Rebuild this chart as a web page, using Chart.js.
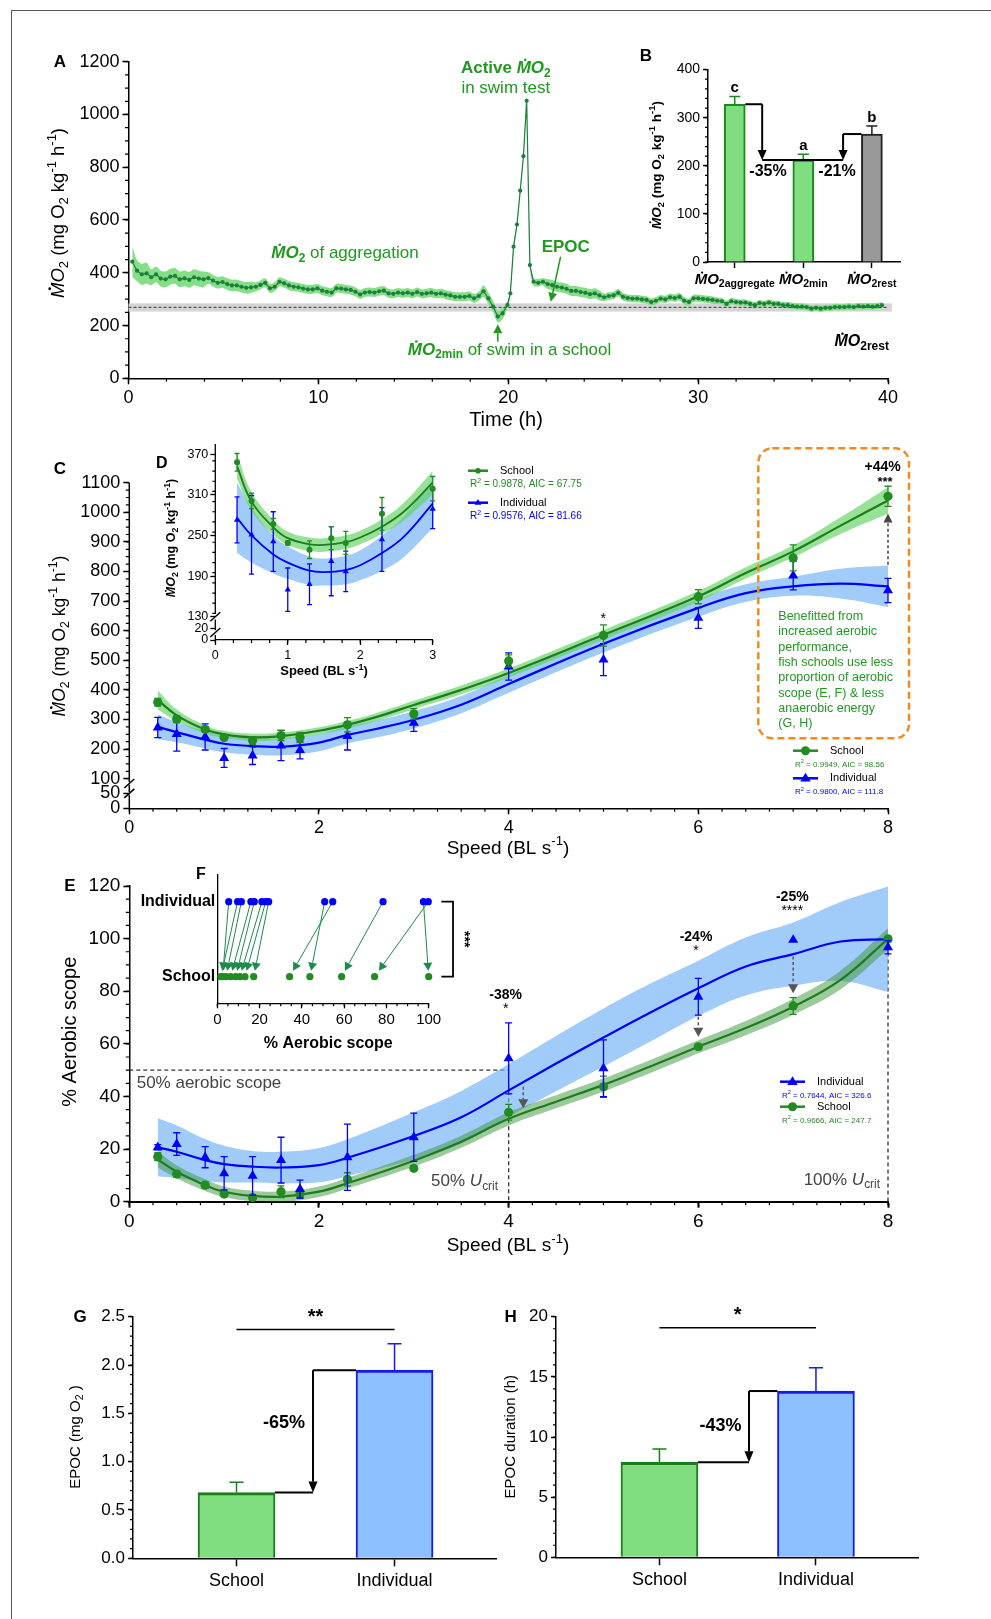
<!DOCTYPE html>
<html>
<head>
<meta charset="utf-8">
<title>Schooling fish metabolism</title>
<script src="https://cdn.jsdelivr.net/npm/chart.js@4.4.1/dist/chart.umd.min.js"></script>
<style>
  body { margin: 0; background: #fff; }
  #page { position: relative; width: 991px; height: 1619px; overflow: hidden; background: #fff; }
  #page canvas { position: absolute; left: 0; top: 0; }
  #frame { position: absolute; left: 11px; top: 10px; width: 1000px; height: 1700px; border-left: 1.5px solid #555; border-top: 1.5px solid #555; }
</style>
</head>
<body>
<div id="page"><div id="frame"></div></div>
<script>
// ---------- data ----------
// A: MO2 time course of the school
const aMO2Pre = [442,408,394,398,383,394,378,375,385,388,375,379,373,383,378,375,380,370,362,365,357,352,352,347,343,345,347,354,362,341,347,366,360,352,347,345,340,337,337,341,332,328,325,341,340,337,335,328,318,325,327,325,330,332,322,320,325,322,325,320,327,320,322,325,320,322,317,314,309,309,309,312,303,312,330,303,272,234,246];
const aSpikeTime = [19.96, 20.11, 20.28, 20.46, 20.63, 20.80, 20.97, 21.14];
const aMO2Spike = [278, 322, 499, 583, 711, 842, 1052, 429];
const aMO2Post = [366,362,366,357,353,347,344,339,331,331,327,324,319,322,314,307,312,314,324,309,304,302,302,299,297,289,294,302,299,307,304,309,294,289,303,303,301,299,297,294,292,282,292,289,287,287,282,277,285,282,287,282,282,277,277,274,272,272,270,264,267,264,267,267,270,270,270,272,270,274,272,274,272,274,277];
const aSemTab = [[0,58],[0.4,40],[1.2,30],[4,22],[6.5,17],[18.6,22],[19.9,10],[21.2,14],[22,19],[25,14],[31,12]];
const aRest = 269, aRestLo = 253, aRestHi = 284;

// B: summary bars
const bCats = ['aggregate', 'min', 'rest'];
const bVals = [328, 212, 266];
const bErr = [16, 12, 17];
const bLetters = ['c', 'a', 'b'];

// C / D: MO2 vs speed
const cSpeed = [0.3, 0.5, 0.8, 1.0, 1.3, 1.6, 1.8, 2.3, 3, 4, 5, 6, 7, 8];
const cSchool = [358, 301, 267, 239, 229, 246, 239, 282, 319, 498, 584, 715, 846, 1054];
const cSchoolErr = [13, 11.5, 8, 3, 13, 17, 17, 24, 18, 20, 36, 24, 44, 34];
const cInd = [273, 251, 241, 170, 178, 212, 197, 244, 289, 479, 502, 643, 786, 736];
const cIndErr = [34, 58, 44, 32, 30, 51, 30, 47, 29, 46, 54, 35, 48, 41];
const cFitX = [0.3, 0.5, 0.8, 1, 1.3, 1.6, 2, 2.3, 2.6, 3, 3.5, 4, 5, 6, 6.5, 7, 7.5, 8];
const cSchoolFit = [366, 314, 266, 250, 240, 244, 262, 282, 308, 349, 400, 457, 586, 716, 795, 868, 955, 1040];
const cSchoolCI = [32, 20, 14, 12, 12, 12, 12, 13, 13, 14, 15, 15, 16, 18, 19, 20, 28, 45];
const cIndFit = [275, 257, 232, 218, 210, 208, 222, 248, 268, 299, 350, 420, 556, 677, 727, 750, 759, 750];
const cIndCI = [42, 34, 30, 29, 29, 29, 29, 29, 29, 29, 29, 30, 30, 30, 30, 32, 50, 70];
const dFitX = [0.3, 0.5, 0.8, 1, 1.3, 1.5, 1.8, 2, 2.3, 2.6, 3];
const dSchoolFit = [352, 300, 262, 246, 237, 236, 240, 247, 263, 285, 328];
const dSchoolCI = [18, 14, 11, 10, 10, 10, 10, 10, 11, 13, 17];
const dIndFit = [276, 250, 222, 210, 198, 196, 199, 206, 224, 248, 297];
const dIndCI = [52, 40, 28, 24, 21, 20, 21, 22, 26, 30, 36];

// E: % aerobic scope vs speed
const eSchool = [17.1, 10.5, 6.3, 2.9, 1.6, 3.8, 2.9, 8.5, 12.7, 34.0, 43.7, 58.9, 74.4, 99.9];
const eSchoolErr = [1.5, 1.2, 1.2, 0.8, 0.8, 2.2, 1.5, 2.5, 0.8, 3, 4, 1, 3.2, 1];
const eInd = [20.7, 21.9, 16.9, 10.8, 9.8, 15.8, 4.8, 16.9, 24.5, 54.5, 50.7, 77.9, 99.5, 96.7];
const eIndErr = [1, 4.3, 4, 6.3, 7.3, 8.7, 3.4, 12.6, 9.2, 13.5, 10.8, 7, 0, 2.5];
const eFitX = [0.3, 0.5, 0.8, 1, 1.3, 1.6, 2, 2.3, 3, 3.5, 4, 4.5, 5, 5.5, 6, 6.5, 7, 7.5, 8];
const eIndFit = [20.7, 19, 15.8, 14.3, 13.3, 13, 13.9, 16.7, 25, 32.1, 42.3, 52.5, 62.4, 72, 81.1, 89.4, 94.1, 98.9, 99.8];
const eIndCI = [11, 10, 8, 7, 6, 6, 6.5, 7, 9, 10, 10, 10.5, 11, 11, 10.5, 11, 12, 15, 20];
const eSchoolFit = [16, 11.4, 6.3, 3.8, 2.2, 1.9, 3.8, 7, 15.6, 22.8, 31.5, 38, 44.4, 51.5, 58.9, 66, 74.1, 84.3, 99.9];
const eSchoolCI = [3, 2.5, 2.2, 2, 2, 2, 2, 2, 2.2, 2.3, 2.5, 2.5, 2.5, 2.5, 2.5, 2.7, 3, 3.5, 4];

// F: paired % aerobic scope (individual -> school)
const fInd = [5.4, 9.6, 11.4, 15.9, 17.5, 21.1, 22.9, 24.3, 50.8, 54.6, 78.4, 97.5, 99.8];
const fSchool = [2.5, 1.7, 4.1, 6.3, 8.7, 10.7, 13.1, 17.2, 43.8, 34.2, 58.8, 100, 74.4];

// G / H: EPOC
const ghCats = ['School', 'Individual'];
const gVals = [0.68, 1.947], gErr = [0.106, 0.273];
const hVals = [7.9, 13.82], hErr = [1.1, 1.94];

// ---------- helpers ----------
const FF = "'Liberation Sans', Arial, Helvetica, sans-serif";
const W = 991, H = 1619;
const GREEN = '#228b22', GREEN_LN = '#1e7b1e', BLUE = '#0000ff';
const GREEN_BAND = 'rgba(95,210,95,0.65)', BLUE_BAND = 'rgba(110,175,245,0.65)';
const TXT_GREEN = '#1f9a1f';

Chart.defaults.font.family = FF;
Chart.defaults.color = '#000';

function mk() {
  const c = document.createElement('canvas');
  c.width = W; c.height = H;
  document.getElementById('page').appendChild(c);
  return c;
}
function frame(l, t, r, b, yw, xh) {
  return { padding: { left: l - yw, top: t, right: W - r, bottom: H - b - xh } };
}
function axis(o) {
  const tl = o.tl ?? 6;
  return {
    type: 'linear', position: o.pos, min: o.min, max: o.max, offset: false,
    border: { display: o.border !== false, color: '#000', width: o.bw || 1.5 },
    grid: { display: true, offset: false, drawOnChartArea: false, drawTicks: tl > 0, tickLength: tl, tickColor: '#000', tickWidth: o.bw || 1.5 },
    ticks: {
      color: '#000', font: { family: FF, size: o.size, weight: o.weight || 'normal' }, padding: o.pad ?? 3,
      autoSkip: false, maxRotation: 0, minRotation: 0,
      callback: (v, i) => o.labels ? o.labels[i] : (o.fmt ? o.fmt(v) : String(v))
    },
    afterBuildTicks: sc => { sc.ticks = o.vals.map(v => ({ value: v })); },
    afterFit: sc => { if (o.pos === 'left') sc.width = o.fit; else sc.height = o.fit; }
  };
}
function opts(layout, scales, plug) {
  return {
    responsive: false, animation: false, devicePixelRatio: 1, events: [], layout, scales,
    plugins: Object.assign({ legend: { display: false }, tooltip: { enabled: false } }, plug || {})
  };
}
const xy = (xs, ys) => xs.map((x, i) => ({ x, y: ys[i] }));
function ptsDS(xs, ys, errs, color, style, r, cap) {
  return { data: xy(xs, ys), errs, errCap: cap, errColor: color, showLine: false, borderColor: color,
    backgroundColor: color, pointStyle: style, pointRadius: r, pointBorderWidth: 0, clip: false };
}
function fitDS(xs, ys, color, w) {
  return { data: xy(xs, ys), borderColor: color, borderWidth: w, pointRadius: 0, tension: 0.4, fill: false, clip: false };
}
function bandDS(xs, ys, ci, color) {
  return [
    { data: xs.map((x, i) => ({ x, y: ys[i] + ci[i] })), borderColor: 'transparent', borderWidth: 0, pointRadius: 0, tension: 0.4, fill: '+1', backgroundColor: color, clip: false },
    { data: xs.map((x, i) => ({ x, y: ys[i] - ci[i] })), borderColor: 'transparent', borderWidth: 0, pointRadius: 0, tension: 0.4, fill: false, clip: false }
  ];
}
const P = (ch, x, y) => [ch.scales.x.getPixelForValue(x), ch.scales.y.getPixelForValue(y)];

function poly(ctx, pts, o = {}) {
  ctx.save();
  ctx.strokeStyle = o.color || '#000'; ctx.lineWidth = o.lw || 1.5;
  ctx.setLineDash(o.dash || []);
  ctx.beginPath();
  pts.forEach((p, i) => i ? ctx.lineTo(p[0], p[1]) : ctx.moveTo(p[0], p[1]));
  ctx.stroke(); ctx.restore();
}
function arrow(ctx, x1, y1, x2, y2, o = {}) {
  const hl = o.hl || 9, hw = o.hw || 4.5, a = Math.atan2(y2 - y1, x2 - x1);
  const bx = x2 - hl * Math.cos(a), by = y2 - hl * Math.sin(a);
  poly(ctx, [[x1, y1], [bx, by]], o);
  ctx.save(); ctx.fillStyle = o.color || '#000';
  ctx.beginPath(); ctx.moveTo(x2, y2);
  ctx.lineTo(bx + hw * Math.sin(a), by - hw * Math.cos(a));
  ctx.lineTo(bx - hw * Math.sin(a), by + hw * Math.cos(a));
  ctx.closePath(); ctx.fill(); ctx.restore();
}
function slash(ctx, x, y) { poly(ctx, [[x - 5, y + 4.5], [x + 5, y - 4.5]], { lw: 1.5 }); }

// rich text: R(text, flags) flags: b bold, i italic, _ sub, ^ sup, d dot above
function R(t, f = '') { return { t, b: f.includes('b'), i: f.includes('i'), sub: f.includes('_'), sup: f.includes('^'), dot: f.includes('d') }; }
function MO2(f = '', sub = '') { return [R('M', 'id' + f), R('O', 'i' + f), R('2' + sub, '_' + f)]; }
function txt(ctx, segs, x, y, o = {}) {
  if (typeof segs === 'string') segs = [R(segs, o.f || '')];
  const size = o.size || 14, k = o.subK || 0.7;
  const parts = segs.map(s => {
    const sz = (s.sub || s.sup) ? size * k : size;
    const f = `${s.i ? 'italic ' : ''}${(s.b || o.bold) ? 'bold ' : ''}${sz}px ${FF}`;
    ctx.font = f;
    return { s, f, sz, w: ctx.measureText(s.t).width, dy: s.sub ? size * 0.3 : s.sup ? -size * 0.36 : 0 };
  });
  const tw = parts.reduce((a, p) => a + p.w, 0);
  ctx.save();
  ctx.translate(x, y);
  if (o.rot) ctx.rotate(o.rot);
  let cx = o.align === 'center' ? -tw / 2 : o.align === 'right' ? -tw : 0;
  ctx.textAlign = 'left'; ctx.textBaseline = 'middle';
  ctx.fillStyle = o.color || '#000';
  for (const p of parts) {
    ctx.font = p.f;
    ctx.fillText(p.s.t, cx, p.dy);
    if (p.s.dot) { ctx.beginPath(); ctx.arc(cx + p.w * (p.s.i ? 0.6 : 0.5), p.dy - p.sz * 0.5, p.sz * 0.075, 0, 7); ctx.fill(); }
    cx += p.w;
  }
  ctx.restore();
}
const YUNIT = (b) => [...MO2(b), R(' (mg O', b), R('2', '_' + b), R(' kg', b), R('-1', '^' + b), R(' h', b), R('-1', '^' + b), R(')', b)];
const SPEED = (b) => [R('Speed (BL s', b), R('-1', '^' + b), R(')', b)];

function tri(ctx, x, y, r, color) {
  ctx.save(); ctx.fillStyle = color; ctx.beginPath();
  ctx.moveTo(x, y - r); ctx.lineTo(x + r * 0.95, y + r * 0.6); ctx.lineTo(x - r * 0.95, y + r * 0.6); ctx.closePath(); ctx.fill(); ctx.restore();
}
function dot(ctx, x, y, r, color) { ctx.save(); ctx.fillStyle = color; ctx.beginPath(); ctx.arc(x, y, r, 0, 7); ctx.fill(); ctx.restore(); }
function legendItem(ctx, x1, x2, y, color, marker, r, label, size, r2, r2size) {
  poly(ctx, [[x1, y], [x2, y]], { color, lw: 2.5 });
  if (marker === 'tri') tri(ctx, (x1 + x2) / 2, y, r, color); else dot(ctx, (x1 + x2) / 2, y, r, color);
  txt(ctx, label, x2 + 12, y, { size });
  txt(ctx, [R('R'), R('2', '^'), R(r2)], x1 + 2, y + 13.6, { size: r2size, color });
}

// ---------- plugins ----------
const minorTicks = {
  id: 'minorTicks',
  afterDraw(chart, args, o) {
    const ctx = chart.ctx;
    ['x', 'y'].forEach(id => {
      const step = o[id]; if (!step) return;
      const sc = chart.scales[id];
      const from = o[id + 'From'] ?? sc.min, to = o[id + 'To'] ?? sc.max, len = o.len || 3.5;
      ctx.save(); ctx.strokeStyle = '#000'; ctx.lineWidth = 1.2; ctx.beginPath();
      for (let k = Math.ceil(from / step - 1e-6); k * step <= to + 1e-6; k++) {
        const p = sc.getPixelForValue(k * step);
        if (id === 'x') { ctx.moveTo(p, sc.top); ctx.lineTo(p, sc.top + len); }
        else { ctx.moveTo(sc.right, p); ctx.lineTo(sc.right - len, p); }
      }
      ctx.stroke(); ctx.restore();
    });
  }
};
const errorBars = {
  id: 'errorBars',
  beforeDatasetDraw(chart, args) {
    const ds = chart.data.datasets[args.index];
    if (!ds.errs) return;
    const ys = chart.scales[args.meta.yAxisID], ctx = chart.ctx;
    ctx.save();
    args.meta.data.forEach((el, j) => {
      const e = ds.errs[j]; if (!e) return;
      const raw = ds.data[j], v = typeof raw === 'object' ? raw.y : raw;
      const x = el.x, yTop = ys.getPixelForValue(v + e), yBot = ys.getPixelForValue(ds.errUp ? v : v - e);
      const cap = ds.errCap || 4;
      ctx.strokeStyle = Array.isArray(ds.errColor) ? ds.errColor[j] : (ds.errColor || '#000');
      ctx.lineWidth = ds.errWidth || 1.3;
      ctx.beginPath();
      ctx.moveTo(x, yBot); ctx.lineTo(x, yTop);
      ctx.moveTo(x - cap, yTop); ctx.lineTo(x + cap, yTop);
      if (!ds.errUp) { ctx.moveTo(x - cap, yBot); ctx.lineTo(x + cap, yBot); }
      ctx.stroke();
    });
    ctx.restore();
  }
};
Chart.register(minorTicks, errorBars);

// ---------- A ----------
const aTime = [];
aMO2Pre.forEach((v, k) => aTime.push(0.2 + 0.25 * k));
aTime.push(...aSpikeTime);
aMO2Post.forEach((v, k) => aTime.push(21.33 + 0.248 * k));
const aMO2 = [...aMO2Pre, ...aMO2Spike, ...aMO2Post];
const semAt = t => { let h = aSemTab[0][1]; aSemTab.forEach(([k, v]) => { if (t >= k) h = v; }); return h; };
const aPts = xy(aTime, aMO2);

new Chart(mk(), {
  type: 'line',
  data: { datasets: [
    { data: aPts, borderColor: '#1d7f3d', borderWidth: 1.2, pointRadius: 2.1, pointBackgroundColor: '#1d7f3d', pointBorderWidth: 0, tension: 0, clip: false },
    { data: [{ x: 0, y: aRest }, { x: 40, y: aRest }], borderColor: '#333', borderWidth: 1, borderDash: [3, 2], pointRadius: 0, clip: false },
    { data: aPts.map(p => ({ x: p.x, y: p.y + semAt(p.x) })), borderColor: 'transparent', borderWidth: 0, pointRadius: 0, tension: 0.35, fill: '+1', backgroundColor: '#86df86', clip: false },
    { data: aPts.map(p => ({ x: p.x, y: p.y - semAt(p.x) })), borderColor: 'transparent', borderWidth: 0, pointRadius: 0, tension: 0.35, fill: false, clip: false }
  ] },
  options: opts(frame(128.5, 61.7, 888, 378.3, 50, 40), {
    x: axis({ pos: 'bottom', min: 0, max: 40, vals: [0, 10, 20, 30, 40], size: 18, fit: 40 }),
    y: axis({ pos: 'left', min: 0, max: 1200, vals: [0, 200, 400, 600, 800, 1000, 1200], size: 18, fit: 50 })
  }, { minorTicks: { x: 2, y: 50 } }),
  plugins: [{
    id: 'annA',
    beforeDatasetsDraw(ch) {
      const [x0, y0] = P(ch, 0, aRestHi), [x1, y1] = P(ch, 40.2, aRestLo);
      ch.ctx.fillStyle = '#d4d4d4'; ch.ctx.fillRect(x0, y0, x1 - x0, y1 - y0);
    },
    afterDraw(ch) {
      const c = ch.ctx, g = TXT_GREEN;
      txt(c, [R('Active ', 'b'), ...MO2('b')], ...P(ch, 19.87, 1175), { size: 17, color: g, align: 'center' });
      txt(c, 'in swim test', ...P(ch, 19.87, 1099), { size: 17, color: g, align: 'center' });
      txt(c, [...MO2('b'), R(' of aggregation')], ...P(ch, 7.52, 474), { size: 17, color: g });
      txt(c, [R('EPOC', 'b')], ...P(ch, 23.03, 497), { size: 17, color: g, align: 'center' });
      arrow(c, ...P(ch, 22.76, 461), ...P(ch, 22.24, 290), { color: g, lw: 1.5, hl: 9, hw: 4.5 });
      txt(c, [...MO2('b', 'min'), R(' of swim in a school')], ...P(ch, 14.71, 107), { size: 17, color: g });
      arrow(c, ...P(ch, 19.45, 139), ...P(ch, 19.45, 205), { color: g, lw: 1.5, hl: 9, hw: 4.5 });
      txt(c, MO2('b', 'rest'), ...P(ch, 40.05, 139), { size: 16, align: 'right', subK: 0.75 });
      txt(c, YUNIT(''), 59, 213, { size: 18.5, align: 'center', rot: -Math.PI / 2 });
      txt(c, 'Time (h)', 506, 420, { size: 20, align: 'center' });
      txt(c, [R('A', 'b')], 60, 62, { size: 17, align: 'center' });
    }
  }]
});

// ---------- B ----------
new Chart(mk(), {
  type: 'bar',
  data: { datasets: [{
    data: xy([0, 1, 2], bVals), errs: bErr, errUp: true, errCap: 5.5, errWidth: 1.5,
    errColor: ['#1a8a1a', '#1a8a1a', '#222'],
    backgroundColor: ['#80dd80', '#80dd80', '#999999'], borderColor: ['#1a8a1a', '#1a8a1a', '#222'],
    borderWidth: 2, barThickness: 21, clip: false
  }] },
  options: opts(frame(708, 69.6, 900, 262, 40, 30), {
    x: axis({ pos: 'bottom', min: -0.39, max: 2.41, vals: [0, 1, 2], labels: ['', '', ''], size: 14, fit: 30, tl: 6 }),
    y: axis({ pos: 'left', min: 0, max: 400, vals: [0, 100, 200, 300, 400], size: 14, fit: 40, tl: 5 })
  }, { minorTicks: { y: 20, len: 3 } }),
  plugins: [{
    id: 'annB',
    afterDraw(ch) {
      const c = ch.ctx, half = 10.5;
      bLetters.forEach((l, i) => txt(c, [R(l, 'b')], ...P(ch, i, bVals[i] + bErr[i] + 17), { size: 15, align: 'center' }));
      const [xa, ya] = P(ch, 0, bVals[0]), [xm, ym] = P(ch, 1, bVals[1]), [xr, yr] = P(ch, 2, bVals[2]);
      const xl = ch.scales.x.getPixelForValue(0.4), xq = ch.scales.x.getPixelForValue(1.58);
      poly(c, [[xa + half, ya], [xl, ya]], { lw: 2 });
      arrow(c, xl, ya, xl, ym, { lw: 2, hl: 10, hw: 4.5 });
      poly(c, [[xl, ym], [xq, ym]], { lw: 2 });
      poly(c, [[xr - half, yr], [xq, yr]], { lw: 2 });
      arrow(c, xq, yr, xq, ym, { lw: 2, hl: 10, hw: 4.5 });
      txt(c, [R('-35%', 'b')], 768, 172, { size: 16, align: 'center' });
      txt(c, [R('-21%', 'b')], 837, 172, { size: 16, align: 'center' });
      bCats.forEach((cat, i) => txt(c, MO2('b', cat), ch.scales.x.getPixelForValue(i), 280, { size: 15, align: 'center' }));
      txt(c, YUNIT('b'), 657, 165, { size: 13.5, align: 'center', rot: -Math.PI / 2 });
      txt(c, [R('B', 'b')], 646, 56, { size: 17, align: 'center' });
    }
  }]
});

// ---------- C ----------
new Chart(mk(), {
  type: 'line',
  data: { datasets: [
    ptsDS(cSpeed, cSchool, cSchoolErr, GREEN, 'circle', 4.6, 3.5),
    ptsDS(cSpeed, cInd, cIndErr, BLUE, 'triangle', 5.8, 3.5),
    fitDS(cFitX, cSchoolFit, GREEN_LN, 2.2),
    fitDS(cFitX, cIndFit, BLUE, 2.2),
    ...bandDS(cFitX, cSchoolFit, cSchoolCI, GREEN_BAND),
    ...bandDS(cFitX, cIndFit, cIndCI, BLUE_BAND)
  ] },
  options: opts(frame(129.3, 482.7, 888, 808.3, 55, 40), {
    x: axis({ pos: 'bottom', min: 0, max: 8, vals: [0, 2, 4, 6, 8], size: 18, fit: 40 }),
    y: axis({ pos: 'left', min: 0, max: 1100, vals: [0, 50, 100, 200, 300, 400, 500, 600, 700, 800, 900, 1000, 1100], size: 18, fit: 55, border: false })
  }, { minorTicks: { x: 0.25, y: 25, yFrom: 100 } }),
  plugins: [{
    id: 'annC',
    afterDraw(ch) {
      const c = ch.ctx, ys = ch.scales.y, ax = ch.scales.x.left;
      [[1100, 88], [80, 55], [46, 0]].forEach(([a, b]) => poly(c, [[ax, ys.getPixelForValue(a)], [ax, ys.getPixelForValue(b)]], { lw: 1.5 }));
      slash(c, ax, ys.getPixelForValue(84)); slash(c, ax, ys.getPixelForValue(50.5));
      arrow(c, ...P(ch, 8, 823), ...P(ch, 8, 996), { color: '#444', lw: 1.5, dash: [3, 2.5], hl: 9, hw: 4.5 });
      txt(c, [R('+44%', 'b')], 882.7, 466.7, { size: 14, align: 'center' });
      txt(c, [R('***', 'b')], 885, 482, { size: 13, align: 'center' });
      txt(c, '*', 603.3, 619, { size: 14, align: 'center' });
      c.save(); c.strokeStyle = '#f28a1e'; c.lineWidth = 2.5; c.setLineDash([7, 4]);
      c.beginPath(); c.roundRect(758.3, 448.3, 150.7, 290, 14); c.stroke(); c.restore();
      ['Benefitted from', 'increased aerobic', 'performance,', 'fish schools use less', 'proportion of aerobic', 'scope (E, F) & less', 'anaerobic energy', '(G, H)']
        .forEach((s, i) => txt(c, s, 778.3, 616.7 + i * 15.33, { size: 12.5, color: TXT_GREEN }));
      legendItem(c, 793, 818, 750.7, GREEN, 'dot', 4.5, 'School', 11, ' = 0.9949, AIC = 98.56', 8);
      legendItem(c, 793, 818, 778.3, BLUE, 'tri', 5.5, 'Individual', 11, ' = 0.9800, AIC = 111.8', 8);
      txt(c, YUNIT(''), 60, 636, { size: 17.5, align: 'center', rot: -Math.PI / 2 });
      txt(c, SPEED(''), 508, 848.5, { size: 19, align: 'center' });
      txt(c, [R('C', 'b')], 60, 469, { size: 17, align: 'center' });
    }
  }]
});

// ---------- D (inset) ----------
new Chart(mk(), {
  type: 'line',
  data: { datasets: [
    ptsDS(cSpeed.slice(0, 9), cSchool.slice(0, 9), cSchoolErr.slice(0, 9), GREEN, 'circle', 3, 2.5),
    ptsDS(cSpeed.slice(0, 9), cInd.slice(0, 9), cIndErr.slice(0, 9), BLUE, 'triangle', 3.6, 2.5),
    fitDS(dFitX, dSchoolFit, GREEN_LN, 1.8),
    fitDS(dFitX, dIndFit, BLUE, 1.8),
    ...bandDS(dFitX, dSchoolFit, dSchoolCI, GREEN_BAND),
    ...bandDS(dFitX, dIndFit, dIndCI, BLUE_BAND)
  ] },
  options: opts(frame(215.3, 444, 432.7, 640, 40, 30), {
    x: axis({ pos: 'bottom', min: 0, max: 3, vals: [0, 1, 2, 3], size: 12.5, fit: 30, tl: 5, bw: 1.3 }),
    y: axis({ pos: 'left', min: 95.7, max: 385, vals: [95.7, 112.8, 130, 190, 250, 310, 370], labels: ['0', '20', '130', '190', '250', '310', '370'], size: 12.5, fit: 40, tl: 5, bw: 1.3, pad: 2, border: false })
  }, { minorTicks: { x: 0.25, y: 15, yFrom: 130, yTo: 370, len: 3 } }),
  plugins: [{
    id: 'annD',
    afterDraw(ch) {
      const c = ch.ctx, ys = ch.scales.y, ax = ch.scales.x.left;
      [[385, 134], [126, 110], [103, 95.7]].forEach(([a, b]) => poly(c, [[ax, ys.getPixelForValue(a)], [ax, ys.getPixelForValue(b)]], { lw: 1.3 }));
      slash(c, ax, ys.getPixelForValue(130)); slash(c, ax, ys.getPixelForValue(106.7));
      legendItem(c, 468, 488, 470.7, GREEN, 'dot', 2.8, 'School', 11, ' = 0.9878, AIC = 67.75', 10);
      legendItem(c, 468, 488, 502.7, BLUE, 'tri', 3.6, 'Individual', 11, ' = 0.9576, AIC = 81.66', 10);
      txt(c, YUNIT('b'), 172, 538, { size: 12.5, align: 'center', rot: -Math.PI / 2 });
      txt(c, SPEED('b'), 324, 671.7, { size: 13, align: 'center' });
      txt(c, [R('D', 'b')], 161.7, 464, { size: 16, align: 'center' });
    }
  }]
});

// ---------- E ----------
const E_GREEN_BAND = 'rgba(60,150,60,0.5)';
new Chart(mk(), {
  type: 'line',
  data: { datasets: [
    ptsDS(cSpeed, eInd, eIndErr, BLUE, 'triangle', 5.8, 3.5),
    ptsDS(cSpeed, eSchool, eSchoolErr, GREEN, 'circle', 4.6, 3.5),
    fitDS(eFitX, eIndFit, BLUE, 2.2),
    fitDS(eFitX, eSchoolFit, GREEN_LN, 2.2),
    ...bandDS(eFitX, eSchoolFit, eSchoolCI, E_GREEN_BAND),
    ...bandDS(eFitX, eIndFit, eIndCI, BLUE_BAND)
  ] },
  options: opts(frame(129.3, 886, 888, 1201.7, 55, 40), {
    x: axis({ pos: 'bottom', min: 0, max: 8, vals: [0, 2, 4, 6, 8], size: 19, fit: 40, bw: 2 }),
    y: axis({ pos: 'left', min: 0, max: 120, vals: [0, 20, 40, 60, 80, 100, 120], size: 19, fit: 55 })
  }, { minorTicks: { x: 0.25, y: 5 } }),
  plugins: [{
    id: 'annE',
    beforeDatasetsDraw(ch) {
      const c = ch.ctx, d = { color: '#333', lw: 1.3, dash: [4, 3] };
      poly(c, [P(ch, 0, 50), P(ch, 4, 50)], d);
      poly(c, [P(ch, 4, 50), P(ch, 4, 0)], d);
      poly(c, [P(ch, 8, 100), P(ch, 8, 0)], d);
    },
    afterDraw(ch) {
      const c = ch.ctx, gray = { color: '#555', lw: 1.5, dash: [3, 2.5], hl: 9, hw: 5 };
      arrow(c, ...P(ch, 4.154, 43.7), ...P(ch, 4.154, 35.5), gray);
      arrow(c, ...P(ch, 6, 70.3), ...P(ch, 6, 62.7), gray);
      arrow(c, ...P(ch, 7, 93.2), ...P(ch, 7, 79.2), gray);
      [['-38%', '*', 505.7, 995], ['-24%', '*', 696, 936.7], ['-25%', '****', 792.3, 896.7]].forEach(([p, s, x, y]) => {
        txt(c, [R(p, 'b')], x, y, { size: 14, align: 'center' });
        txt(c, s, x, y + 14, { size: 14, align: 'center' });
      });
      txt(c, '50% aerobic scope', 136.7, 1083.3, { size: 17, color: '#444' });
      txt(c, [R('50% '), R('U', 'i'), R('crit', '_')], 498, 1181.7, { size: 17, color: '#444', align: 'right' });
      txt(c, [R('100% '), R('U', 'i'), R('crit', '_')], 880, 1180, { size: 17, color: '#444', align: 'right' });
      legendItem(c, 780, 805, 1081.7, BLUE, 'tri', 5.5, 'Individual', 11, ' = 0.7644, AIC = 326.6', 8);
      legendItem(c, 780, 805, 1106.7, GREEN, 'dot', 4.5, 'School', 11, ' = 0.9666, AIC = 247.7', 8);
      txt(c, '% Aerobic scope', 70, 1031.7, { size: 20, align: 'center', rot: -Math.PI / 2 });
      txt(c, SPEED(''), 508, 1246, { size: 19, align: 'center' });
      txt(c, [R('E', 'b')], 70, 886, { size: 17, align: 'center' });
    }
  }]
});

// ---------- F (inset) ----------
new Chart(mk(), {
  type: 'line',
  data: { datasets: [
    { data: fInd.map(x => ({ x, y: 1 })), showLine: false, pointRadius: 3.6, pointBorderWidth: 0, backgroundColor: BLUE, clip: false },
    { data: fSchool.map(x => ({ x, y: 0 })), showLine: false, pointRadius: 3.6, pointBorderWidth: 0, backgroundColor: GREEN, clip: false }
  ] },
  options: opts(frame(217.3, 875, 428.7, 1003.3, 95, 30), {
    x: axis({ pos: 'bottom', min: 0, max: 100, vals: [0, 20, 40, 60, 80, 100], size: 15, fit: 30, tl: 5, bw: 1.3 }),
    y: axis({ pos: 'left', min: -0.355, max: 1.356, vals: [0, 1], labels: ghCats, size: 16, weight: 'bold', fit: 95, tl: 0, pad: 2, bw: 1.3 })
  }, { minorTicks: { x: 5, len: 3 } }),
  plugins: [{
    id: 'annF',
    beforeDatasetsDraw(ch) {
      const c = ch.ctx;
      fInd.forEach((v, i) => {
        const [x1, y1] = P(ch, v, 1), [x2, y2] = P(ch, fSchool[i], 0);
        const f = 1 - 6 / (y2 - y1);
        arrow(c, x1, y1, x1 + (x2 - x1) * f, y1 + (y2 - y1) * f, { color: '#1e8a50', lw: 1, hl: 8, hw: 4.5 });
      });
    },
    afterDraw(ch) {
      const c = ch.ctx;
      poly(c, [P(ch, 106, 1), P(ch, 111.5, 1), P(ch, 111.5, 0), P(ch, 106, 0)], { lw: 1.8 });
      txt(c, [R('***', 'b')], ...P(ch, 116.4, 0.5), { size: 14, align: 'center', rot: Math.PI / 2 });
      txt(c, [R('% Aerobic scope', 'b')], 328.3, 1044, { size: 16, align: 'center' });
      txt(c, [R('F', 'b')], 201, 875, { size: 16, align: 'center' });
    }
  }]
});

// ---------- G / H ----------
function epocChart(vals, errs, area, yo, ann) {
  new Chart(mk(), {
    type: 'bar',
    data: { datasets: [{
      data: xy([0, 1], vals), errs, errUp: true, errCap: 7, errWidth: 1.5, errColor: ['#1a7d1a', '#1a1af0'],
      backgroundColor: ['#80dd80', '#8cc0ff'], borderColor: ['#1a7d1a', '#1a1af0'],
      borderWidth: { top: 3, left: 2, right: 2, bottom: 0 }, barThickness: 77, clip: false
    }] },
    options: opts(frame(area[0], area[1], area[2], area[3], 45, 40), {
      x: axis({ pos: 'bottom', min: area[4], max: area[5], vals: [0, 1], labels: ghCats, size: 18, fit: 40, tl: 8, pad: 4 }),
      y: axis(Object.assign({ pos: 'left', size: 17, fit: 45, tl: 5, pad: 3 }, yo))
    }, { minorTicks: { y: yo.minor, len: 3 } }),
    plugins: [{ id: 'annGH', afterDraw(ch) { ann(ch); } }]
  });
}
function connector(ch, vals, conn, sig, stars, pct, pctXY) {
  const c = ch.ctx, half = 38.5;
  const [x0, yS] = P(ch, 0, vals[0]), [x1, yI] = P(ch, 1, vals[1]);
  const xc = ch.scales.x.getPixelForValue(conn);
  poly(c, [[x0 + half, yS], [xc, yS]], { lw: 2 });
  arrow(c, xc, yI, xc, yS, { lw: 2, hl: 11, hw: 4.5 });
  poly(c, [[xc, yI], [x1 - half, yI]], { lw: 2 });
  const ySig = ch.scales.y.getPixelForValue(sig);
  poly(c, [[x0, ySig], [x1, ySig]], { lw: 1.5 });
  txt(c, [R(stars, 'b')], (x0 + x1) / 2, ySig - 12, { size: 20, align: 'center' });
  txt(c, [R(pct, 'b')], pctXY[0], pctXY[1], { size: 18, align: 'center' });
}
epocChart(gVals, gErr, [133, 1316.7, 496, 1558.3, -0.655, 1.642],
  { min: 0, max: 2.5, vals: [0, 0.5, 1, 1.5, 2, 2.5], fmt: v => v.toFixed(1), minor: 0.1 },
  ch => {
    connector(ch, gVals, 0.484, 2.368, '**', '-65%', [284, 1423]);
    txt(ch.ctx, [R('EPOC (mg O'), R('2', '_'), R(' )')], 76, 1437, { size: 15, align: 'center', rot: -Math.PI / 2 });
    txt(ch.ctx, [R('G', 'b')], 80, 1317, { size: 17, align: 'center' });
  });
epocChart(hVals, hErr, [556, 1316.7, 918, 1557.3, -0.661, 1.652],
  { min: 0, max: 20, vals: [0, 5, 10, 15, 20], minor: 1 },
  ch => {
    connector(ch, hVals, 0.572, 19.09, '*', '-43%', [720.6, 1425.7]);
    txt(ch.ctx, 'EPOC duration (h)', 510.7, 1436.7, { size: 15, align: 'center', rot: -Math.PI / 2 });
    txt(ch.ctx, [R('H', 'b')], 510.7, 1317, { size: 17, align: 'center' });
  });
</script>
</body>
</html>
